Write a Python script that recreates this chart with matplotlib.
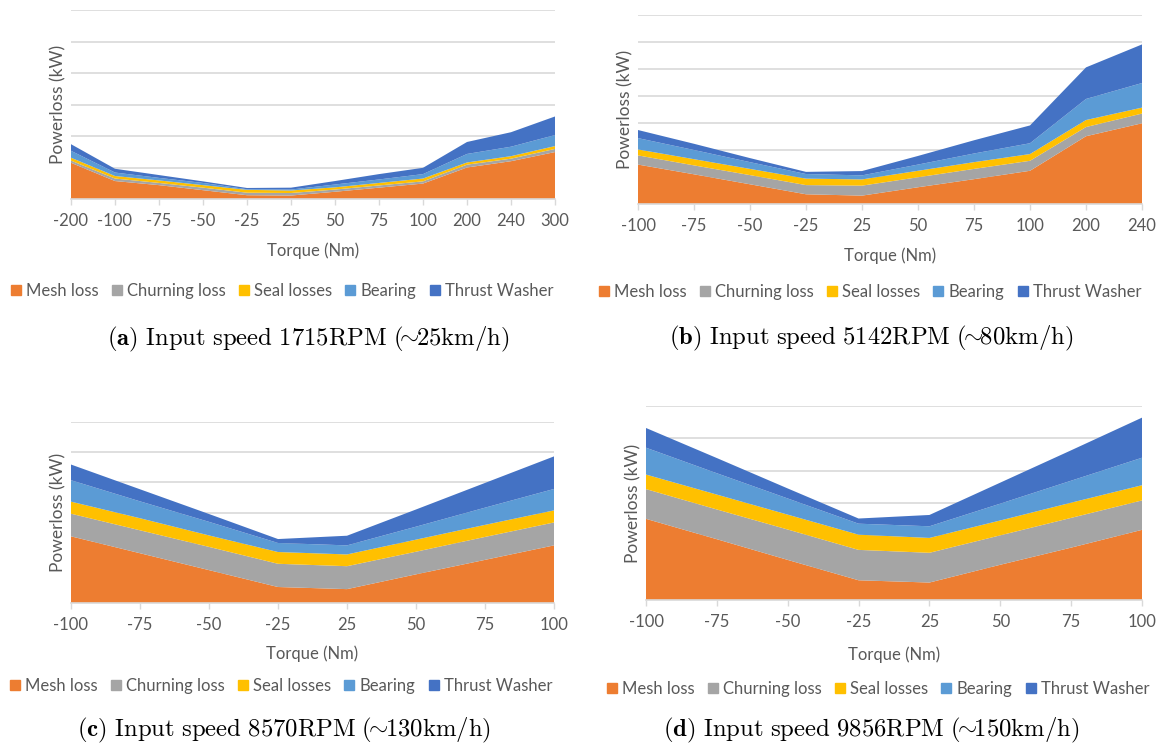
import matplotlib.pyplot as plt
import numpy as np
from matplotlib.patches import Patch

plt.rcParams['mathtext.fontset'] = 'cm'
plt.rcParams['font.family'] = ['Lato', 'DejaVu Sans']

W, H = 1163, 745

series_names = ['Mesh loss', 'Churning loss', 'Seal losses', 'Bearing', 'Thrust Washer']
colours = ['#ED7D31', '#A5A5A5', '#FFC000', '#5B9BD5', '#4472C4']
text_col = '#595959'
grid_col = '#D9D9D9'

# (a) 1715 RPM
torque_a = ['-200', '-100', '-75', '-50', '-25', '25', '50', '75', '100', '200', '240', '300']
mesh_a = [1.15, 0.57, 0.44, 0.28, 0.12, 0.11, 0.23, 0.36, 0.49, 1.00, 1.20, 1.49]
churn_a = [0.07, 0.08, 0.07, 0.08, 0.08, 0.08, 0.07, 0.07, 0.07, 0.09, 0.08, 0.10]
seal_a = [0.09, 0.08, 0.08, 0.08, 0.09, 0.08, 0.07, 0.08, 0.09, 0.07, 0.08, 0.09]
bearing_a = [0.22, 0.11, 0.08, 0.07, 0.02, 0.03, 0.09, 0.11, 0.14, 0.27, 0.30, 0.35]
thrust_a = [0.21, 0.12, 0.09, 0.05, 0.04, 0.06, 0.11, 0.17, 0.20, 0.38, 0.46, 0.59]

# (b) 5142 RPM
torque_b = ['-100', '-75', '-50', '-25', '25', '50', '75', '100', '200', '240']
mesh_b = [1.46, 1.10, 0.73, 0.36, 0.31, 0.62, 0.92, 1.23, 2.51, 2.99]
churn_b = [0.34, 0.33, 0.34, 0.34, 0.37, 0.37, 0.38, 0.37, 0.34, 0.36]
seal_b = [0.22, 0.23, 0.23, 0.24, 0.23, 0.24, 0.25, 0.25, 0.26, 0.22]
bearing_b = [0.42, 0.34, 0.25, 0.17, 0.15, 0.23, 0.32, 0.40, 0.78, 0.91]
thrust_b = [0.30, 0.23, 0.15, 0.08, 0.16, 0.32, 0.49, 0.66, 1.17, 1.43]

# (c) 8570 RPM
torque_c = ['-100', '-75', '-50', '-25', '25', '50', '75', '100']
mesh_c = [2.21, 1.65, 1.09, 0.53, 0.46, 0.95, 1.43, 1.91]
churn_c = [0.75, 0.76, 0.77, 0.77, 0.76, 0.75, 0.76, 0.76]
seal_c = [0.40, 0.40, 0.38, 0.39, 0.39, 0.40, 0.40, 0.40]
bearing_c = [0.71, 0.56, 0.45, 0.30, 0.30, 0.43, 0.57, 0.71]
thrust_c = [0.52, 0.40, 0.26, 0.13, 0.32, 0.57, 0.82, 1.08]

# (d) 9856 RPM
torque_d = ['-100', '-75', '-50', '-25', '25', '50', '75', '100']
mesh_d = [2.51, 1.88, 1.24, 0.61, 0.54, 1.09, 1.62, 2.17]
churn_d = [0.92, 0.92, 0.94, 0.94, 0.92, 0.91, 0.92, 0.91]
seal_d = [0.45, 0.46, 0.46, 0.47, 0.46, 0.46, 0.47, 0.47]
bearing_d = [0.83, 0.66, 0.50, 0.34, 0.36, 0.52, 0.68, 0.85]
thrust_d = [0.61, 0.47, 0.31, 0.16, 0.35, 0.65, 0.94, 1.24]

captions = [r'$\mathbf{(a)}\ \mathrm{Input\ speed\ 1715RPM\ (\!\!\sim\!\!25km/h)}$',
            r'$\mathbf{(b)}\ \mathrm{Input\ speed\ 5142RPM\ (\!\!\sim\!\!80km/h)}$',
            r'$\mathbf{(c)}\ \mathrm{Input\ speed\ 8570RPM\ (\!\!\sim\!\!130km/h)}$',
            r'$\mathbf{(d)}\ \mathrm{Input\ speed\ 9856RPM\ (\!\!\sim\!\!150km/h)}$']

panels = [
    (torque_a, [mesh_a, churn_a, seal_a, bearing_a, thrust_a], 6),
    (torque_b, [mesh_b, churn_b, seal_b, bearing_b, thrust_b], 7),
    (torque_c, [mesh_c, churn_c, seal_c, bearing_c, thrust_c], 6),
    (torque_d, [mesh_d, churn_d, seal_d, bearing_d, thrust_d], 6),
]

# pixel boxes (x0, y0, x1, y1) of the plot areas, and y of xlabel / legend / caption
boxes = [(71, 10, 555, 199), (638, 15, 1142, 204), (71, 422, 554, 603), (646, 406, 1142, 600)]
xlabel_y = [251, 256, 654, 655]
legend_xy = [(282, 291), (870, 292), (281, 686), (878, 689)]
caption_xy = [(308, 339), (871, 338), (284, 730), (871, 730)]

fig = plt.figure(figsize=(W / 100, H / 100), dpi=100)
fs = 12

for i, (labels, series, ytop) in enumerate(panels):
    x0, y0, x1, y1 = boxes[i]
    ax = fig.add_axes([x0 / W, 1 - y1 / H, (x1 - x0) / W, (y1 - y0) / H])
    xs = np.arange(len(labels))
    ax.stackplot(xs, *series, colors=colours, lw=0)
    ax.set_xlim(0, len(labels) - 1)
    ax.set_ylim(0, ytop)
    ax.set_yticks(np.arange(0, ytop + 1))
    ax.grid(axis='y', color=grid_col, lw=1.2)
    ax.set_axisbelow(True)
    for s in ['left', 'right', 'top']:
        ax.spines[s].set_visible(False)
    ax.spines['bottom'].set_color(grid_col)
    ax.spines['bottom'].set_linewidth(1.2)
    ax.tick_params(axis='y', length=0, labelleft=False)
    ax.set_xticks(xs)
    ax.set_xticklabels(labels)
    ax.tick_params(axis='x', length=4, width=1, color=grid_col, labelcolor=text_col,
                   labelsize=fs, pad=6)

    xc = (x0 + x1) / 2
    fig.text(xc / W, 1 - xlabel_y[i] / H, 'Torque (Nm)', ha='center', va='center',
             color=text_col, fontsize=fs)
    fig.text((x0 - 13) / W, 1 - (y0 + y1) / 2 / H, 'Powerloss (kW)', ha='center', va='center',
             rotation=90, color=text_col, fontsize=fs + 0.5)

    handles = [Patch(color=c, label=n) for c, n in zip(colours, series_names)]
    lx, ly = legend_xy[i]
    fig.legend(handles=handles, loc='center', bbox_to_anchor=(lx / W, 1 - ly / H), ncol=5,
               frameon=False, fontsize=fs, labelcolor=text_col, handlelength=0.6,
               handleheight=0.6, handletextpad=0.3, columnspacing=0.8, borderaxespad=0)

    cx, cy = caption_xy[i]
    fig.text(cx / W, 1 - cy / H, captions[i], ha='center', va='center', fontsize=17.8)

fig.savefig('out.png', dpi=100)
